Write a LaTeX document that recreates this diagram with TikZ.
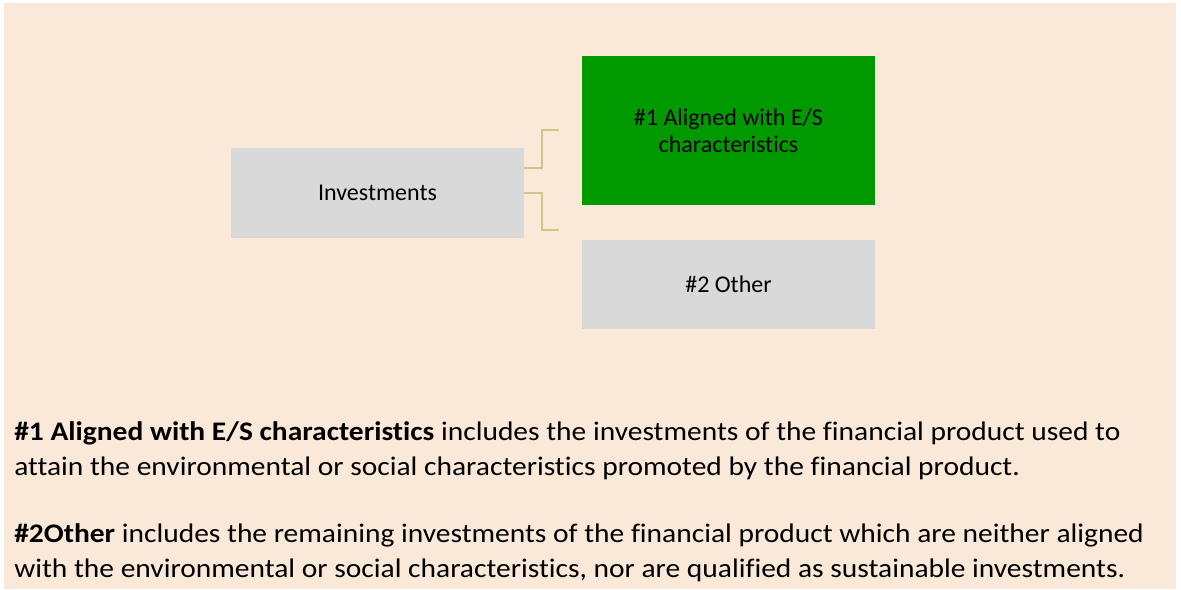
\documentclass[tikz,border=0pt]{standalone}
\usepackage{fontspec}
\setmainfont{Carlito}[Ligatures={NoCommon}]
\newfontfamily\notefont{Carlito}[Ligatures={NoCommon}, FakeStretch=1.1]
\usetikzlibrary{calc}
\definecolor{peach}{RGB}{250,232,216}
\definecolor{boxgray}{RGB}{217,217,217}
\definecolor{boxgreen}{RGB}{0,153,0}
\definecolor{linkline}{RGB}{209,196,137}
\tikzset{
  catbox/.style={rectangle, draw=none, inner sep=0pt, align=center,
    minimum width=219.75pt, font=\fontsize{18pt}{20pt}\selectfont},
  link/.style={draw=linkline, line width=1.5pt},
  note/.style={anchor=base west, inner sep=0pt,
    font=\notefont\fontsize{20.1pt}{26pt}\selectfont}
}
\begin{document}
\begin{tikzpicture}[x=0.75pt, y=-0.75pt]
  % page and panel
  \fill[white] (0,0) rectangle (1181,589);
  \fill[peach] (4,3) rectangle (1176,589);
  \useasboundingbox (0,0) rectangle (1181,589);

  % category boxes
  \node[catbox, fill=boxgray, minimum height=67.5pt] (inv) at (377.5,193) {Investments};
  \node[catbox, fill=boxgreen, minimum height=111.75pt] (aligned) at (728.5,130.5)
    {\#1 Aligned with E/S\\characteristics};
  \node[catbox, fill=boxgray, minimum height=66.75pt] (other) at (728.5,284.5) {\#2 Other};

  % bracket connectors
  \coordinate (up) at (559,130);
  \coordinate (down) at (559,230);
  \draw[link] ($(inv.east)+(0,-25.5)$) -- ++(17.5,0) |- (up);
  \draw[link] ($(inv.east)+(0,0)$) -- ++(17.5,0) |- (down);

  % explanatory notes
  \node[note] (n1) at (14,440) {\textbf{\#1 Aligned with E/S characteristics} includes the investments of the financial product used to};
  \node[note] (n2) at (14,475) {attain the environmental or social characteristics promoted by the financial product.};
  \node[note] (n3) at (14,542) {\textbf{\#2Other} includes the remaining investments of the financial product which are neither aligned};
  \node[note] (n4) at (14,577) {with the environmental or social characteristics, nor are qualified as sustainable investments.};
\end{tikzpicture}
\end{document}
